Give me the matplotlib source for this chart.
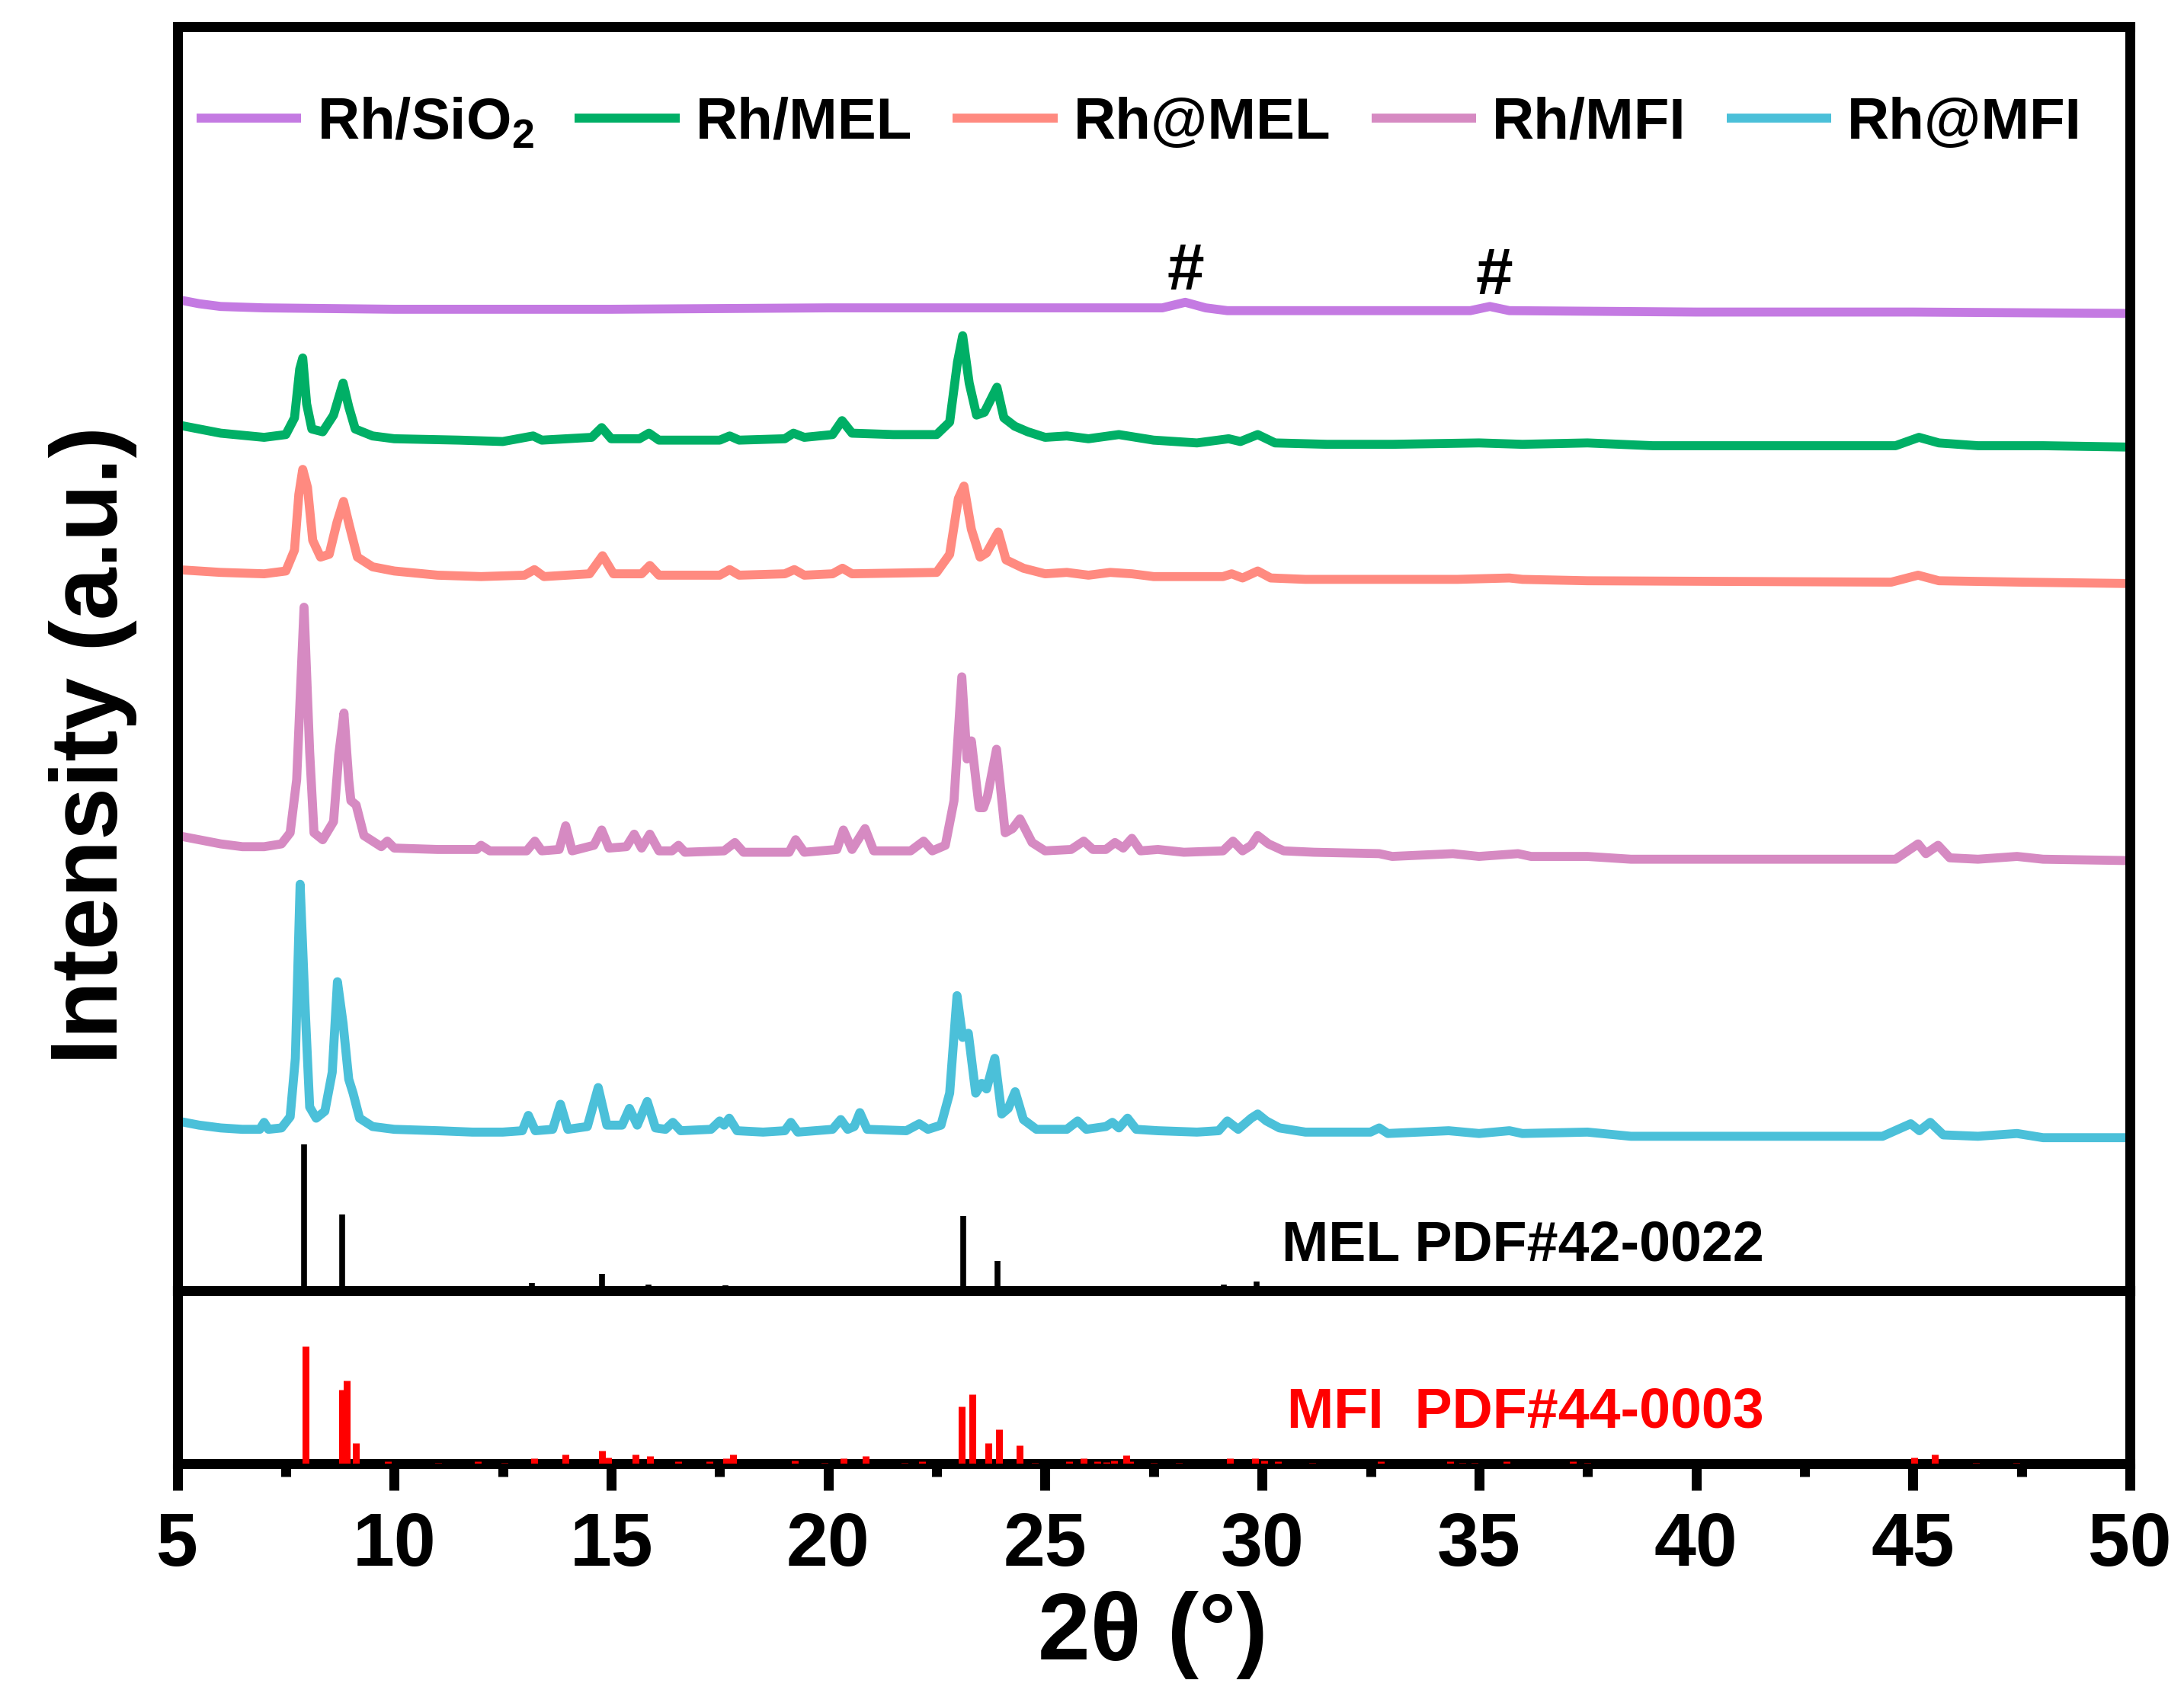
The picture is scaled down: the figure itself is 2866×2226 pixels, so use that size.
import matplotlib
matplotlib.use("Agg")
import matplotlib.pyplot as plt
from matplotlib.ticker import MultipleLocator

plt.rcParams['font.family'] = ['Liberation Sans', 'DejaVu Sans']
plt.rcParams['font.weight'] = 'bold'
plt.rcParams['mathtext.fontset'] = 'custom'
plt.rcParams['mathtext.rm'] = 'Liberation Sans:bold'
plt.rcParams['mathtext.it'] = 'Liberation Sans:bold'
plt.rcParams['mathtext.bf'] = 'Liberation Sans:bold'

# ---- measured patterns: 2theta and intensity (a.u.) above each pattern's own baseline ----
sio2_x = [5.0, 5.5, 6.0, 7.0, 10.0, 15.0, 20.0, 25.0, 27.7, 28.23, 28.7, 29.2,
          33.0, 34.8, 35.25, 35.7, 40.0, 45.0, 50.0]
sio2_y = [7, 4, 2, 1, 0, 0, 1, 1, 1, 5, 1, -1,
          -1, -1, 2, -1, -2, -2, -3]

mel_x = [5.0, 5.5, 6.0, 7.0, 7.5, 7.7, 7.82, 7.89, 7.98, 8.1,
         8.35, 8.6, 8.82, 8.95, 9.1, 9.5, 10.0, 11.5, 12.5, 13.2,
         13.4, 14.55, 14.78, 15.0, 15.65, 15.87, 16.1, 17.5, 17.73, 17.95,
         19.0, 19.2, 19.45, 20.1, 20.32, 20.55, 21.5, 22.5, 22.8, 22.98,
         23.1, 23.25, 23.42, 23.6, 23.89, 24.05, 24.3, 24.6, 25.0, 25.5,
         26.0, 26.7, 27.5, 28.5, 29.23, 29.5, 29.9, 30.3, 31.5, 33.0,
         35.0, 36.0, 37.5, 39.0, 44.6, 45.14, 45.6, 46.5, 48.0, 50.0]
mel_y = [11, 8, 5, 2, 4, 16, 51, 59, 26, 8,
         6, 18, 41, 24, 8, 3, 1, 0, -1, 3,
         0, 2, 9, 1, 1, 5, 0, 0, 3, 0,
         1, 5, 2, 4, 14, 5, 4, 4, 13, 56,
         75, 41, 18, 20, 38, 16, 10, 6, 2, 3,
         1, 4, 0, -2, 1, -1, 4, -2, -3, -3,
         -2, -3, -2, -4, -4, 2, -2, -4, -4, -5]

at_mel_x = [5.0, 6.0, 7.0, 7.5, 7.7, 7.8, 7.89, 8.0, 8.12, 8.3,
            8.5, 8.68, 8.83, 8.97, 9.15, 9.5, 10.0, 11.0, 12.0, 13.0,
            13.23, 13.45, 14.5, 14.8, 15.05, 15.7, 15.89, 16.1, 17.5, 17.73,
            17.95, 19.0, 19.22, 19.45, 20.1, 20.33, 20.55, 22.5, 22.8, 23.0,
            23.13, 23.3, 23.5, 23.65, 23.92, 24.1, 24.5, 25.0, 25.5, 26.0,
            26.5, 27.0, 27.5, 29.1, 29.3, 29.55, 29.9, 30.2, 31.0, 33.0,
            34.5, 35.7, 36.0, 37.5, 44.5, 45.12, 45.6, 47.5, 50.0]
at_mel_y = [5, 3, 2, 4, 19, 59, 77, 64, 26, 14,
            16, 39, 54, 36, 14, 7, 4, 1, 0, 1,
            5, 0, 2, 15, 2, 2, 8, 1, 1, 5,
            1, 2, 5, 1, 2, 6, 2, 3, 16, 56,
            65, 34, 14, 17, 32, 12, 6, 2, 3, 1,
            3, 2, 0, 0, 2, -1, 4, -1, -2, -2,
            -2, -1, -2, -3, -4, 1, -3, -4, -5]

mfi_x = [5.0, 5.5, 6.0, 6.5, 7.0, 7.4, 7.6, 7.75, 7.92, 8.05,
         8.15, 8.35, 8.6, 8.72, 8.84, 8.95, 9.0, 9.12, 9.3, 9.7,
         9.84, 10.0, 11.0, 11.9, 12.0, 12.2, 13.05, 13.24, 13.4, 13.8,
         13.95, 14.1, 14.6, 14.78, 14.95, 15.35, 15.53, 15.7, 15.89, 16.1,
         16.4, 16.55, 16.7, 17.6, 17.85, 18.05, 19.1, 19.25, 19.45, 20.2,
         20.35, 20.55, 20.85, 21.05, 21.9, 22.2, 22.4, 22.7, 22.9, 23.08,
         23.2, 23.3, 23.48, 23.58, 23.67, 23.88, 24.08, 24.25, 24.42, 24.7,
         25.0, 25.6, 25.89, 26.1, 26.4, 26.61, 26.8, 27.0, 27.2, 27.6,
         28.2, 29.1, 29.33, 29.55, 29.75, 29.9, 30.15, 30.5, 31.2, 32.7,
         33.0, 34.4, 35.0, 35.9, 36.2, 37.5, 38.5, 44.6, 45.12, 45.3,
         45.58, 45.85, 46.5, 47.4, 48.0, 50.0]
mfi_y = [12, 9, 6, 4, 4, 6, 14, 52, 176, 72,
         14, 9, 22, 70, 100, 52, 37, 34, 12, 4,
         8, 3, 2, 2, 5, 1, 1, 8, 1, 2,
         19, 1, 5, 16, 3, 4, 13, 3, 13, 1,
         1, 5, 0, 1, 7, 0, 0, 9, 0, 2,
         16, 2, 17, 1, 1, 8, 1, 5, 37, 126,
         67, 80, 32, 32, 40, 74, 14, 17, 24, 7,
         1, 2, 8, 2, 2, 7, 3, 10, 1, 2,
         0, 1, 8, 1, 5, 12, 6, 1, 0, -1,
         -3, -1, -3, -1, -3, -3, -5, -5, 6, -1,
         5, -4, -5, -3, -5, -6]

at_mfi_x = [5.0, 5.5, 6.0, 6.5, 6.9, 7.0, 7.1, 7.4, 7.6, 7.72,
            7.83, 7.94, 8.05, 8.2, 8.4, 8.57, 8.69, 8.82, 8.95, 9.05,
            9.2, 9.5, 10.0, 11.0, 11.8, 12.5, 12.95, 13.09, 13.25, 13.65,
            13.83, 14.0, 14.45, 14.70, 14.9, 15.25, 15.42, 15.6, 15.83, 16.02,
            16.25, 16.42, 16.6, 17.3, 17.5, 17.6, 17.72, 17.9, 18.5, 19.0,
            19.14, 19.3, 20.1, 20.29, 20.45, 20.6, 20.73, 20.9, 21.8, 22.1,
            22.3, 22.6, 22.8, 22.97, 23.1, 23.23, 23.4, 23.54, 23.65, 23.84,
            24.0, 24.15, 24.31, 24.5, 24.8, 25.5, 25.75, 25.95, 26.4, 26.55,
            26.7, 26.9, 27.1, 27.6, 28.5, 29.0, 29.2, 29.45, 29.75, 29.9,
            30.1, 30.4, 31.0, 32.5, 32.7, 32.9, 34.3, 35.0, 35.7, 36.0,
            37.5, 38.5, 44.3, 44.95, 45.15, 45.4, 45.7, 46.5, 47.4, 48.0,
            50.0]
at_mfi_y = [9, 6, 4, 3, 3, 8, 3, 4, 12, 54,
            179, 94, 19, 11, 16, 44, 109, 79, 39, 29,
            11, 5, 3, 2, 1, 1, 2, 13, 2, 3,
            21, 3, 5, 33, 6, 6, 18, 6, 23, 4,
            3, 8, 2, 3, 9, 6, 11, 2, 1, 2,
            8, 1, 3, 10, 3, 5, 15, 3, 2, 7,
            3, 6, 29, 99, 69, 72, 29, 36, 32, 54,
            14, 18, 30, 10, 3, 3, 9, 3, 5, 8,
            4, 11, 3, 2, 1, 2, 9, 3, 11, 14,
            9, 4, 1, 1, 4, 0, 2, 0, 2, 0,
            1, -2, -2, 7, 2, 8, -1, -2, 0, -3,
            -3]

# standard cards (2theta, relative height)
mel_ref_pos = [7.92, 8.80, 13.17, 14.79, 15.86, 17.63, 23.12, 23.90, 29.12, 29.87]
mel_ref_int = [105, 55, 5.6, 12, 4.5, 3.9, 54, 21.5, 4.5, 6.7]

mfi_ref_pos = [7.96, 8.80, 8.91, 9.12, 9.85, 11.01, 11.93, 12.54, 13.23, 13.95,
               14.79, 14.93, 15.56, 15.90, 16.55, 17.27, 17.65, 17.81, 19.23, 19.92,
               20.36, 20.87, 21.76, 22.17, 23.08, 23.32, 23.69, 23.94, 24.41, 24.76,
               25.55, 25.89, 26.20, 26.41, 26.59, 26.87, 26.96, 27.50, 28.08, 29.26,
               29.84, 30.05, 30.37, 31.16, 32.74, 34.34, 34.62, 34.90, 35.64, 37.17,
               37.50, 45.03, 45.51, 46.46, 47.39]
mfi_ref_int = [0.68, 0.43, 0.48, 0.12, 0.015, 0.006, 0.015, 0.006, 0.03, 0.054,
               0.076, 0.034, 0.054, 0.046, 0.015, 0.015, 0.03, 0.054, 0.016, 0.006,
               0.03, 0.046, 0.006, 0.015, 0.33, 0.40, 0.12, 0.20, 0.106, 0.006,
               0.015, 0.03, 0.015, 0.008, 0.018, 0.047, 0.015, 0.006, 0.006, 0.03,
               0.03, 0.019, 0.015, 0.006, 0.015, 0.015, 0.006, 0.006, 0.015, 0.015,
               0.006, 0.037, 0.054, 0.006, 0.006]

labels = ['Rh/SiO$_2$', 'Rh/MEL', 'Rh@MEL', 'Rh/MFI', 'Rh@MFI']
colors = ['#C47AE2', '#00AF66', '#FF8A80', '#D68AC2', '#4BC0D9']
offsets = [705, 611, 513, 315, 113]

series = [(sio2_x, sio2_y), (mel_x, mel_y), (at_mel_x, at_mel_y),
          (mfi_x, mfi_y), (at_mfi_x, at_mfi_y)]

fig = plt.figure(figsize=(28.66, 22.26), dpi=100)
ax = fig.add_axes([0.0812, 0.2389, 0.8940, 0.7454])
ax2 = fig.add_axes([0.0812, 0.1370, 0.8940, 0.1019])

spine_w = 9.4
lw = 8.5

handles = []
for (xs, ys), lab, col, off in zip(series, labels, colors, offsets):
    h, = ax.plot(xs, [v + off for v in ys], color=col, lw=lw, label=lab,
                 solid_joinstyle='round', solid_capstyle='butt')
    handles.append(h)

ax.vlines(mel_ref_pos, 0, mel_ref_int, color='black', lw=5.5, zorder=3)
ax2.vlines(mfi_ref_pos, 0, mfi_ref_int, color='red', lw=6.5, zorder=3)

ax.set_xlim(5, 50)
ax.set_ylim(0, 908)
ax2.set_xlim(5, 50)
ax2.set_ylim(0, 1)

for a in (ax, ax2):
    for s in a.spines.values():
        s.set_linewidth(spine_w)
    a.tick_params(left=False, labelleft=False)
ax.tick_params(bottom=False, labelbottom=False)

ax2.xaxis.set_major_locator(MultipleLocator(5))
ax2.xaxis.set_minor_locator(MultipleLocator(2.5))
ax2.tick_params(axis='x', which='major', length=25, width=spine_w, direction='out',
                labelsize=71, pad=20)
ax2.tick_params(axis='x', which='minor', length=12.5, width=spine_w, direction='out')

fig.text(0.528, 0.0216, '2θ (°)', fontsize=89, ha='center', va='baseline')
fig.text(0.0426, 0.5606, 'Intensity (a.u.)', fontsize=89, rotation=90,
         ha='center', va='center')

ax.text(28.23, 719, '#', fontsize=63, ha='center', va='baseline')
ax.text(35.35, 716, '#', fontsize=63, ha='center', va='baseline')
ax.text(41.57, 21.5, 'MEL PDF#42-0022', fontsize=53, ha='right', va='baseline',
        color='black')
ax2.text(41.57, 0.208, 'MFI  PDF#44-0003', fontsize=53, ha='right', va='baseline',
         color='red')

fig.legend(handles=handles, labels=labels, loc='center left',
           bbox_to_anchor=(0.0900, 0.9272), ncol=5, frameon=False, fontsize=55,
           handlelength=1.8, handletextpad=0.27, columnspacing=0.7,
           borderpad=0, borderaxespad=0)

fig.savefig('out.png', dpi=100)
